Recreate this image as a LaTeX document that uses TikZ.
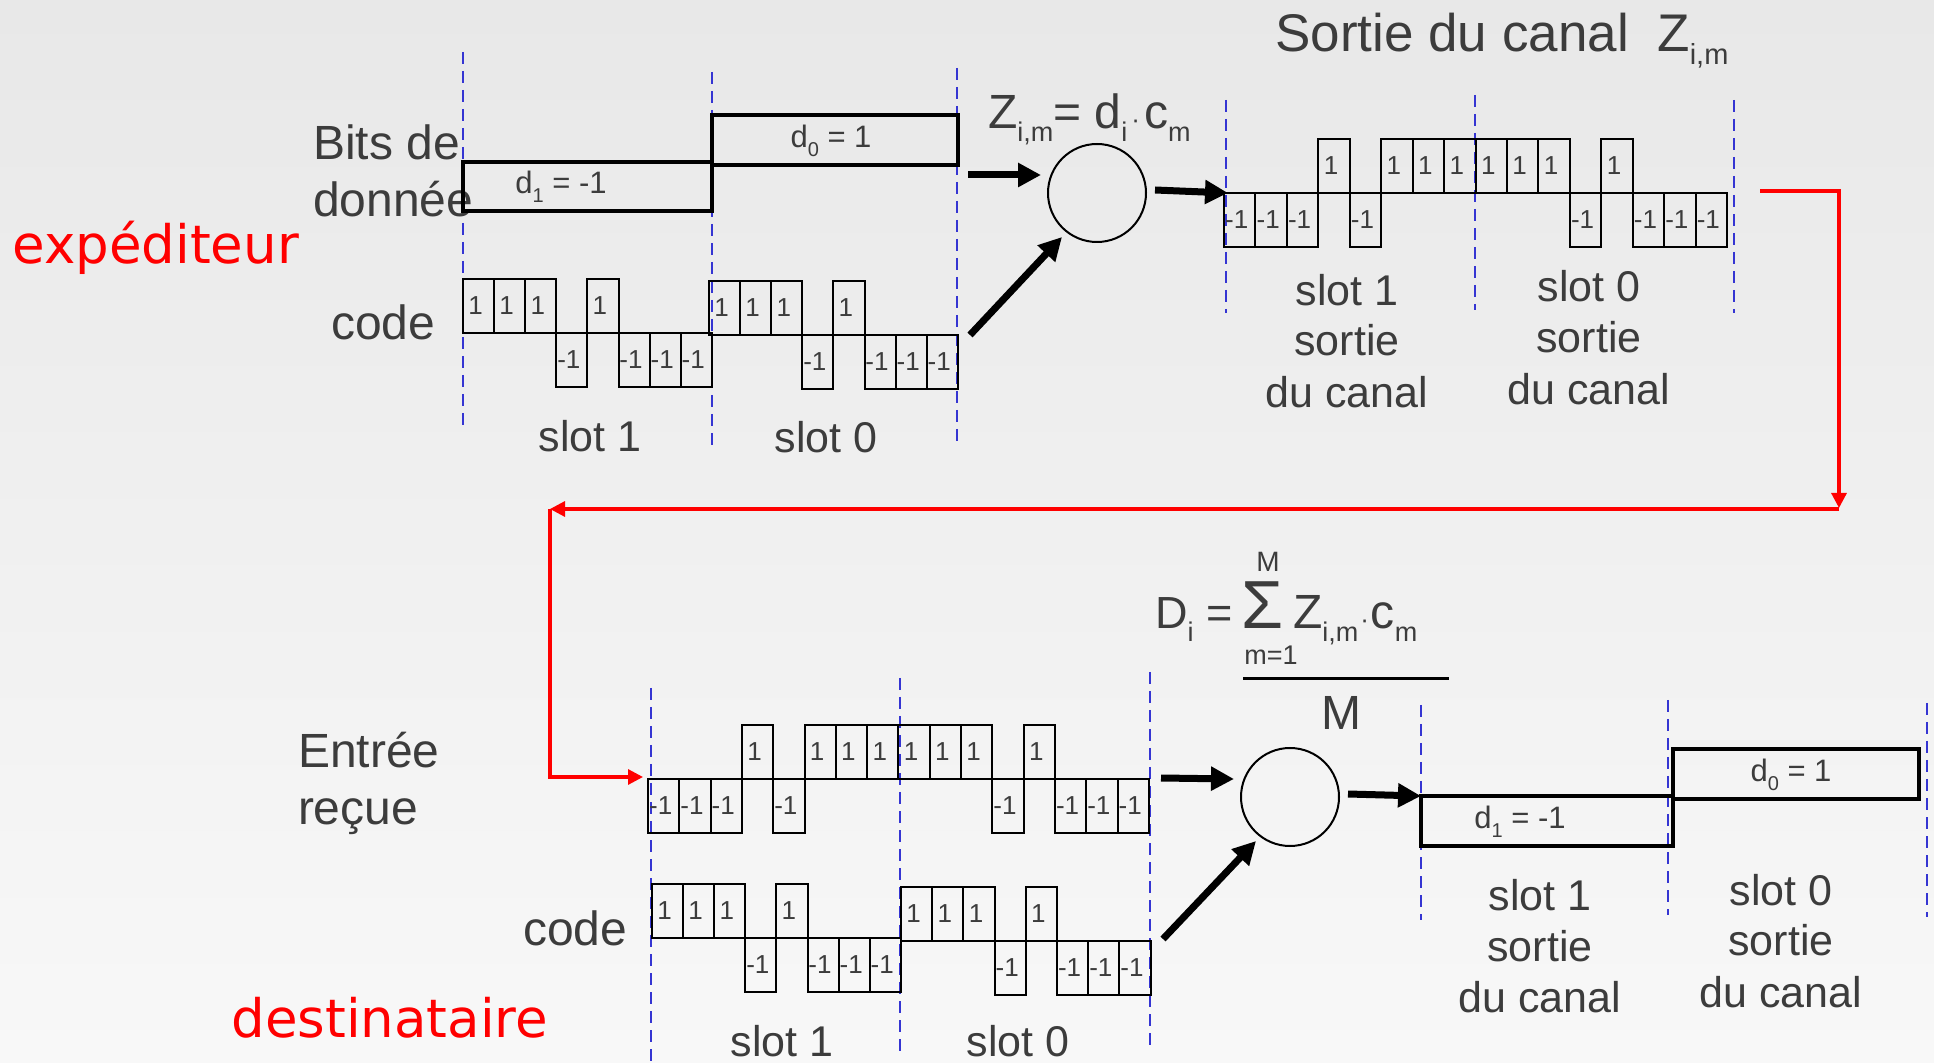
\documentclass[tikz,border=0pt]{standalone}
\usepackage{fontspec}
\setmainfont{Liberation Sans}
\newfontfamily\dejavu{DejaVu Sans}
\usetikzlibrary{arrows.meta}
\definecolor{txt}{HTML}{3C3C3C}
\definecolor{dashblue}{HTML}{3535D2}
\definecolor{bgtop}{HTML}{E8E8E8}
\definecolor{bgmid}{HTML}{E6E6E6}
\definecolor{bgbot}{HTML}{F8F8F8}
\newcommand\subL[1]{\raisebox{-6.5pt}{\fontsize{13.5}{13.5}\selectfont #1}}
\newcommand\subS[1]{\raisebox{-4.5pt}{\fontsize{10}{10}\selectfont #1}}
\newcommand\cdotS{{\fontsize{13}{13}\selectfont ·}}
\newcommand\chiprow[5]{%
  \foreach \v [count=\i from 0] in {#5} {
    \pgfmathsetmacro\xa{#2+\i*#4}
    \pgfmathsetmacro\xb{#2+(\i+1)*#4}
    \pgfmathsetmacro\yt{#3-\v*54}
    \draw[chip] (\xa,#3) rectangle (\xb,\yt);
    \node[chiplbl] (#1-\i) at ({(\xa+\xb)/2-3},{(#3+\yt)/2}) {\v};
  }}
\begin{document}
\begin{tikzpicture}[x=0.5pt,y=-0.5pt,
  lbl/.style={inner sep=0pt,outer sep=0pt,text=txt,font=\fontsize{24}{28}\selectfont,anchor=base west},
  slotlbl/.style={inner sep=0pt,text=txt,font=\fontsize{21.5}{25}\selectfont,anchor=base},
  redlbl/.style={inner sep=0pt,text=red,font=\dejavu\fontsize{26.5}{30}\selectfont,anchor=base west},
  chip/.style={draw=black,line width=1pt},
  chiplbl/.style={inner sep=0pt,text=txt,font=\fontsize{13}{13}\selectfont},
  databox/.style={draw=black,line width=2pt},
  datalbl/.style={inner sep=0pt,text=txt,font=\fontsize{15.5}{15.5}\selectfont,anchor=base},
  slotsep/.style={draw=dashblue,line width=1.3pt,dash pattern=on 6pt off 3.5pt},
  bigarrow/.style={draw=black,line width=3.5pt,-{Triangle[length=11.5pt,width=11.5pt]}},
  redarrow/.style={draw=red,line width=1.6pt,-{Triangle[length=7.5pt,width=7.5pt]}},
  adder/.style={circle,draw=black,line width=1pt,minimum size=49pt,inner sep=0pt}
]
\fill[top color=bgtop,middle color=bgmid,bottom color=bgbot] (0,0) rectangle (1934,1063);
\useasboundingbox (0,0) rectangle (1934,1063);

% ---------- slot separators ----------
\draw[slotsep] (463,52) -- (463,429);
\draw[slotsep] (712,72) -- (712,447);
\draw[slotsep] (957,68) -- (957,444);
\draw[slotsep] (1226,100) -- (1226,313);
\draw[slotsep] (1475,95) -- (1475,310);
\draw[slotsep] (1734,100) -- (1734,313);
\draw[slotsep] (651,688) -- (651,1063);
\draw[slotsep] (900,678) -- (900,1055);
\draw[slotsep] (1150,672) -- (1150,1048);
\draw[slotsep] (1421,705) -- (1421,920);
\draw[slotsep] (1668,700) -- (1668,915);
\draw[slotsep] (1927,703) -- (1927,917);

% ---------- sender ----------
\node[redlbl] (exp) at (12,264) {expéditeur};
\node[lbl] (bits1) at (313,160) {Bits de};
\node[lbl] (bits2) at (313,217) {donnée};
\node[lbl] (code1) at (331,340) {code};

\draw[databox] (463,162) rectangle (712,211);
\draw[databox] (712,115) rectangle (958,165);
\node[datalbl] (d1a) at (561,194) {d\subS{1} = -1};
\node[datalbl] (d0a) at (831,148) {d\subS{0} = 1};

\chiprow{sca}{463}{333}{31.1}{1,1,1,-1,1,-1,-1,-1}
\chiprow{scb}{709}{335}{31.1}{1,1,1,-1,1,-1,-1,-1}

\node[slotlbl] (s1a) at (590,452) {slot 1};
\node[slotlbl] (s0a) at (826,453) {slot 0};

% ---------- channel ----------
\node[lbl] (zform) at (988,129) {Z\subL{i,m}= d\subL{i}\hspace{2pt}\cdotS\hspace{2pt}c\subL{m}};
\node[adder] (sum1) at (1097,193) {};
\node[inner sep=0pt,text=txt,font=\fontsize{26.5}{30}\selectfont,anchor=base west] (title) at (1275,52) {Sortie du canal};
\node[inner sep=0pt,text=txt,font=\fontsize{26.5}{30}\selectfont,anchor=base west] (titlez) at (1657,52) {Z\raisebox{-6.5pt}{\fontsize{14.5}{14.5}\selectfont i,m}};

\coordinate (a1s) at (968,175);  \coordinate (a1e) at (1041,175);
\coordinate (a2s) at (970,335);  \coordinate (a2e) at (1062,237);
\coordinate (a3s) at (1155,190); \coordinate (a3e) at (1228,193);
\draw[bigarrow] (a1s) -- (a1e);
\draw[bigarrow] (a2s) -- (a2e);
\draw[bigarrow] (a3s) -- (a3e);

\chiprow{out}{1224}{193}{31.44}{-1,-1,-1,1,-1,1,1,1,1,1,1,-1,1,-1,-1,-1}

\node[slotlbl] (o1a) at (1347,306) {slot 1};
\node[slotlbl] (o1b) at (1347,356) {sortie};
\node[slotlbl] (o1c) at (1347,408) {du canal};
\node[slotlbl] (o0a) at (1589,302) {slot 0};
\node[slotlbl] (o0b) at (1589,353) {sortie};
\node[slotlbl] (o0c) at (1589,405) {du canal};

% ---------- red connectors ----------
\coordinate (r0) at (1760,191);
\coordinate (r1) at (1839,508);
\coordinate (r2) at (1839,509);
\coordinate (r3) at (550,509);
\coordinate (r4) at (643,777);
\draw[redarrow] (r0) -| (r1);
\draw[redarrow] (r2) -- (r3);
\draw[redarrow] (r3) |- (r4);

% ---------- receiver ----------
\node[lbl] (ent1) at (298,768) {Entrée};
\node[lbl] (ent2) at (298,825) {reçue};
\node[lbl] (code2) at (523,945) {code};
\node[redlbl] (dest) at (231,1037) {destinataire};

\chiprow{rec}{648}{779}{31.3}{-1,-1,-1,1,-1,1,1,1,1,1,1,-1,1,-1,-1,-1}
\chiprow{rca}{652}{938}{31.1}{1,1,1,-1,1,-1,-1,-1}
\chiprow{rcb}{901}{941}{31.2}{1,1,1,-1,1,-1,-1,-1}

\node[slotlbl] (s1b) at (782,1056) {slot 1};
\node[slotlbl] (s0b) at (1018,1056) {slot 0};

% formula
\node[lbl,font=\fontsize{22.5}{27}\selectfont] (dform) at (1155,629) {D\subL{i} =};
\node[inner sep=0pt,text=txt,font=\fontsize{34}{34}\selectfont,anchor=base west] (sig) at (1241,629) {Σ};
\node[inner sep=0pt,text=txt,font=\fontsize{14}{14}\selectfont,anchor=base] (supM) at (1268,572) {M};
\node[inner sep=0pt,text=txt,font=\fontsize{13.5}{13.5}\selectfont,anchor=base] (subm) at (1271,665) {m=1};
\node[lbl] (zc) at (1293,629) {Z\subL{i,m}\hspace{1pt}\cdotS\hspace{1pt}c\subL{m}};
\coordinate (fl) at (1243,679); \coordinate (fr) at (1449,679);
\draw[black,line width=1.5pt] (fl) -- (fr);
\node[lbl] (denM) at (1321,730) {M};

\node[adder] (sum2) at (1290,797) {};
\coordinate (b1s) at (1161,778);  \coordinate (b1e) at (1234,779);
\coordinate (b2s) at (1163,939);  \coordinate (b2e) at (1256,841);
\coordinate (b3s) at (1348,794);  \coordinate (b3e) at (1421,796);
\draw[bigarrow] (b1s) -- (b1e);
\draw[bigarrow] (b2s) -- (b2e);
\draw[bigarrow] (b3s) -- (b3e);

\draw[databox] (1421,796) rectangle (1673,846);
\draw[databox] (1673,749) rectangle (1919,799);
\node[datalbl] (d1b) at (1520,828) {d\subS{1} = -1};
\node[datalbl] (d0b) at (1791,782) {d\subS{0} = 1};

\node[slotlbl] (p1a) at (1540,910) {slot 1};
\node[slotlbl] (p1b) at (1540,961) {sortie};
\node[slotlbl] (p1c) at (1540,1012) {du canal};
\node[slotlbl] (p0a) at (1781,905) {slot 0};
\node[slotlbl] (p0b) at (1781,955) {sortie};
\node[slotlbl] (p0c) at (1781,1007) {du canal};
\end{tikzpicture}
\end{document}
